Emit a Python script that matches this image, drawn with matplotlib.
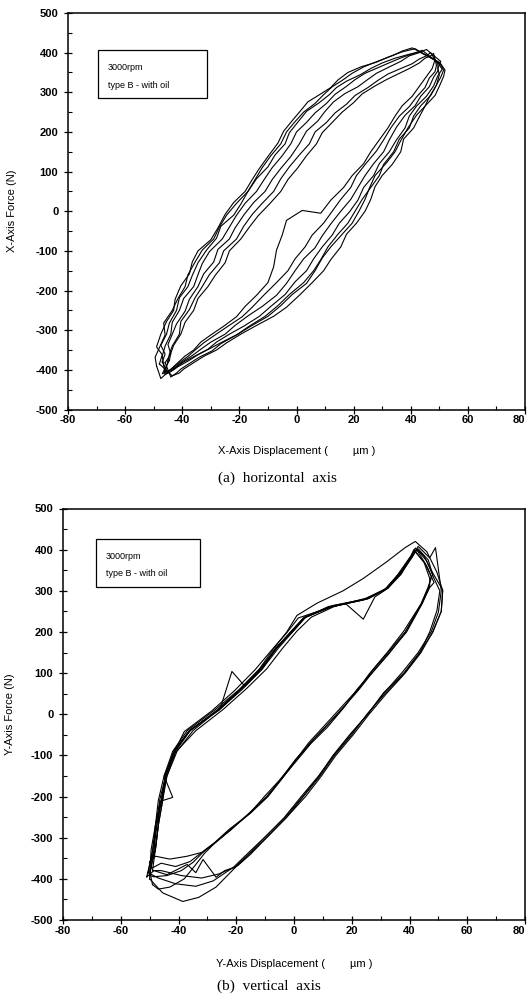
import matplotlib
matplotlib.use('Agg')
import matplotlib.pyplot as plt
from matplotlib.patches import Rectangle
from matplotlib.ticker import MultipleLocator

plt.rcParams['font.family'] = ['Liberation Sans', 'DejaVu Sans']
plt.rcParams['axes.unicode_minus'] = False

# ---- (a) horizontal axis: force vs displacement, 7 recorded cycles ----
top_x1 = [-48, -47, -49, -47.5, -45.5, -43, -42.5, -40.5, -37.5, -36.5, -34.5, -30, -27.5, -25, -22, -18, -15.5,
          -13, -10, -6.5, -4.5, -2, 1, 4, 8.5, 12, 14.5, 18, 22.5, 28, 32.5, 37, 41.5,
          50.5, 52, 51.5, 50, 48.5, 45, 43, 41, 37.5, 36.5, 33.5, 30, 27.5, 26, 24, 21, 17.5,
          15.5, 12, 9.5, 5.5, 1, -3.5, -8, -14, -19.5, -24.5, -28, -32.5, -36, -39.5, -41, -43.5, -48]
top_y1 = [-385, -362, -342, -310, -278, -250, -222, -188, -158, -128, -100, -72, -42, -8, 22, 50, 80,
          108, 138, 172, 202, 224, 250, 276, 296, 312, 331, 350, 364, 376, 390, 402, 410,
          372, 356, 340, 315, 292, 265, 238, 210, 182, 150, 118, 90, 62, 30, 0, -30, -58,
          -90, -122, -150, -180, -212, -242, -265, -288, -310, -332, -350, -366, -382, -398, -408, -415, -385]
top_x2 = [-47, -46, -47.5, -45.5, -44.5, -42, -41, -38, -36.5, -34.5, -31.5, -28, -26.5, -22, -19.5, -17, -14,
          -10, -7.5, -4, -2.5, 0.5, 3.5, 8, 11.5, 14, 17.5, 22.5, 26, 30, 34.5, 39.5, 43,
          50, 51.5, 50.5, 48.5, 46.5, 45, 42, 39, 36.5, 34.5, 31.5, 27.5, 25.5, 24, 22, 19.5, 15.5,
          12, 9, 6.5, 3.5, -1.5, -5.5, -10, -16.5, -20.5, -25.5, -30, -34.5, -38, -41.5, -43, -45, -47]
top_y2 = [-380, -360, -338, -310, -282, -250, -218, -190, -162, -130, -98, -68, -38, -10, 18, 50, 82,
          112, 142, 170, 198, 225, 252, 274, 294, 312, 328, 345, 360, 374, 386, 396, 402,
          376, 356, 338, 312, 288, 265, 242, 210, 178, 150, 122, 90, 58, 30, 2, -30, -62,
          -90, -118, -150, -182, -210, -238, -265, -292, -310, -328, -345, -362, -378, -392, -400, -408, -380]
top_x3 = [-46.5, -47, -46, -44, -43.5, -41, -39.5, -36, -34.5, -33, -30.5, -26, -23.5, -21, -18, -14, -11.5,
          -8.5, -5, -2, 0, 3.5, 6.5, 10.5, 13.5, 17.5, 20.5, 24, 28.5, 33, 37, 41, 44,
          49.5, 51, 49.5, 48, 45.5, 42, 39.5, 38, 35, 32.5, 29, 27, 23.5, 21.5, 18.5, 15, 12.5,
          9, 6, 3.5, -0.5, -4, -9, -13, -18.5, -23.5, -28, -31, -35.5, -39.5, -42.5, -44, -46, -46.5]
top_y3 = [-388, -365, -340, -310, -280, -250, -220, -190, -160, -132, -102, -70, -40, -10, 20, 50, 78,
          110, 140, 170, 200, 224, 248, 272, 295, 315, 332, 348, 362, 376, 388, 398, 406,
          375, 358, 342, 316, 290, 265, 240, 210, 180, 150, 120, 90, 60, 28, -2, -30, -60,
          -90, -120, -150, -178, -210, -240, -265, -290, -310, -330, -348, -365, -380, -395, -404, -412, -388]
top_x4 = [-46, -44, -45, -43.5, -42, -39, -37.5, -34.5, -32.5, -29, -27.5, -23.5, -21.5, -18.5, -15, -11, -8.5,
          -5.5, -2, 1, 3.5, 7.5, 10, 13, 17, 21.5, 24.5, 28, 32.5, 36.5, 39.5, 43, 45.5,
          50.5, 49.5, 50, 49, 47, 43.5, 41, 39.5, 36, 34, 30.5, 29, 26, 23, 20.5, 18, 14.5,
          11, 8.5, 6, 2.5, -2.5, -6.5, -11, -17, -21, -26.5, -29.5, -34, -37.5, -40.5, -42, -44, -46]
top_y4 = [-382, -360, -336, -310, -284, -252, -222, -190, -158, -128, -96, -70, -42, -10, 22, 50, 80,
          108, 138, 170, 202, 228, 252, 276, 297, 314, 330, 348, 364, 378, 392, 400, 408,
          378, 360, 344, 318, 292, 266, 240, 210, 182, 150, 118, 90, 60, 30, 0, -30, -58,
          -90, -122, -150, -180, -210, -238, -265, -292, -312, -334, -352, -368, -384, -398, -408, -418, -382]
top_x5 = [-45, -44.5, -43.5, -41, -40.5, -37.5, -35.5, -33, -30.5, -27, -25.5, -21, -18.5, -15.5, -12, -8, -5.5,
          -2.5, 1, 4.5, 6.5, 10.5, 13.5, 17.5, 20.5, 25, 28.5, 32, 36.5, 40.5, 43, 45.5, 47,
          49.5, 49.5, 48, 46.5, 43.5, 41.5, 38, 35, 32.5, 30.5, 27, 24, 21.5, 19, 15.5, 12, 9,
          6.5, 2.5, -0.5, -3.5, -7, -12, -17, -21.5, -25, -30, -33.5, -36.5, -40, -42.5, -44, -46, -45]
top_y5 = [-378, -360, -340, -310, -278, -248, -218, -190, -160, -130, -100, -70, -38, -8, 20, 50, 82,
          112, 142, 170, 200, 224, 248, 270, 292, 312, 330, 346, 360, 372, 384, 392, 400,
          370, 354, 338, 314, 290, 266, 242, 212, 180, 150, 120, 90, 60, 30, 0, -32, -62,
          -92, -120, -150, -182, -212, -240, -264, -288, -310, -330, -348, -364, -380, -394, -400, -406, -378]
top_x6 = [-44.5, -44, -43, -40.5, -39, -36, -34.5, -31, -28.5, -25, -23.5, -19.5, -16.5, -13.5, -9.5, -5.5, -3,
          0.5, 3.5, 7, 9, 12.5, 16, 20, 23, 27.5, 31.5, 35.5, 39.5, 43, 45, 47, 48,
          49, 48.5, 46.5, 45, 42, 39.5, 36, 33, 30.5, 28, 24.5, 21, 19, 15.5, 12.5, 9.5, 5.5,
          3, -0.5, -3, -7, -11.5, -15.5, -19, -24, -28.5, -32.5, -35.5, -38, -41, -43.5, -45, -47, -44.5]
top_y6 = [-376, -358, -338, -310, -280, -250, -220, -190, -162, -130, -100, -70, -40, -12, 18, 50, 80,
          110, 140, 170, 198, 224, 250, 274, 296, 316, 332, 346, 360, 374, 386, 392, 398,
          368, 352, 336, 312, 288, 264, 240, 210, 180, 152, 122, 90, 60, 30, 0, -30, -60,
          -90, -120, -150, -180, -212, -242, -266, -290, -312, -332, -350, -366, -382, -396, -404, -410, -376]
top_x7 = [-49, -49.5, -48, -46, -46.5, -43.5, -41.5, -39, -38, -35.5, -33, -29, -27, -24.5, -21, -17, -14.5,
          -12, -9, -5.5, -3.5, -0.5, 2.5, 6.5, 9.5, 12.5, 16, 19.5, 23.5, 29, 33.5, 37, 40.5,
          48.5, 47.5, 45.5, 43, 40.5, 37, 34.5, 32, 29, 26, 23.5, 19.5, 16.5, 12, 8.5, 2, -3.5,
          -5, -7, -8, -10, -14, -18, -21, -25.5, -30, -33.5, -36, -39, -42, -44.5, -46, -47.5, -49]
top_y7 = [-390, -368, -344, -312, -282, -250, -220, -190, -160, -128, -98, -70, -40, -10, 20, 50, 80,
          110, 140, 170, 200, 226, 250, 272, 294, 314, 330, 348, 364, 380, 392, 404, 412,
          382, 360, 340, 315, 290, 266, 240, 210, 180, 150, 120, 90, 60, 28, -5, 2, -23,
          -60, -98, -140, -180, -212, -240, -266, -290, -312, -330, -350, -365, -385, -402, -412, -422, -390]

# ---- (b) vertical axis: 8 recorded cycles ----
bot_x1 = [-50, -49.5, -48, -47, -45, -42, -37, -27.5, -19, -12, -7, -2.5, 1, 8, 17, 24, 32, 38.5, 42,
          46, 49.5,
          51.5, 51, 48, 44, 38.5, 32, 26, 20.5, 14.5, 9.5, 4, -2.5, -9.5, -15.5, -20,
          -27, -33, -38.5, -45.5, -50]
bot_y1 = [-400, -330, -270, -210, -150, -90, -40, 10, 60, 110, 160, 200, 240, 270, 300, 330, 370, 405, 420,
          395, 345,
          300, 250, 200, 150, 100, 50, 0, -50, -100, -150, -200, -250, -300, -340, -370,
          -420, -445, -455, -434, -400]
bot_x2 = [-50.5, -49, -47.5, -46, -44, -41, -34, -24.5, -16.5, -9.5, -4, 1, 6, 14, 25, 32.5, 37, 41, 43,
          47, 49,
          51, 50, 47.5, 43, 37.5, 31, 25.5, 19.5, 13.5, 8.5, 3, -3, -10, -16, -21,
          -28, -34, -41, -47, -50.5]
bot_y2 = [-385, -330, -268, -212, -150, -92, -40, 12, 62, 110, 160, 202, 236, 262, 282, 306, 342, 382, 408,
          380, 405,
          300, 248, 200, 150, 102, 50, 0, -48, -100, -152, -200, -250, -298, -338, -372,
          -405, -418, -412, -398, -385]
bot_x3 = [-49, -48, -47, -46.5, -44.5, -41.5, -36.5, -27, -19, -12, -6.5, -1.5, 3, 12, 24, 31.5, 36, 40, 42.5,
          46, 48.5,
          50.5, 49.5, 47, 43.5, 38, 31.5, 25.5, 20, 14, 9, 3.5, -2.5, -9.5, -15, -19.5,
          -26, -32, -39, -46, -49]
bot_y3 = [-380, -328, -272, -208, -152, -90, -42, 8, 58, 108, 158, 198, 232, 260, 278, 302, 338, 378, 402,
          372, 330,
          300, 252, 200, 148, 98, 50, 2, -50, -100, -150, -198, -250, -300, -340, -368,
          -388, -398, -392, -380, -380]
bot_x4 = [-51, -49, -48, -46, -44.5, -41.5, -36, -26, -18.5, -11, -6, -0.5, 4, 13.5, 26, 32.5, 37, 40.5, 42,
          45, 47.5,
          51.5, 51, 48, 43.5, 38, 31, 25.5, 19.5, 13.5, 8.5, 2.5, -3.5, -10.5, -16, -20.5,
          -24, -27, -31.5, -34, -37, -44, -48.5, -51]
bot_y4 = [-395, -335, -270, -212, -148, -88, -38, 10, 60, 112, 162, 200, 236, 264, 282, 308, 340, 380, 404,
          385, 350,
          302, 250, 198, 150, 100, 52, 0, -50, -102, -150, -200, -252, -302, -342, -372,
          -380, -396, -353, -385, -365, -390, -380, -395]
bot_x5 = [-50, -48, -47, -45.5, -44, -40.5, -35, -25.5, -21.5, -17, -11, -5.5, -0.5, 4, 13.5, 25.5, 32, 36.5, 40, 41.5,
          45, 47,
          47, 44.5, 39, 33, 27, 22.5, 17.5, 11, 5.5, 1, -4.5, -9, -15, -22, -27, -31.5,
          -37, -43, -48, -50]
bot_y5 = [-360, -328, -270, -210, -150, -90, -40, 15, 104, 68, 110, 160, 200, 236, 262, 280, 304, 340, 378, 400,
          370, 330,
          312, 270, 200, 150, 100, 60, 20, -30, -70, -110, -160, -200, -240, -280, -310, -335,
          -345, -352, -345, -360]
bot_x6 = [-49.5, -48.5, -48, -46.5, -42, -45, -41.5, -38, -28.5, -20.5, -13.5, -7.5, -2.5, 1.5, 12.5, 24, 31.5, 36.5, 40.5, 43,
          46.5, 48,
          46.5, 44, 38, 32.5, 26.5, 22, 17, 10.5, 5, 0.5, -5, -10, -15.5, -22.5, -27.5, -32,
          -36, -41, -46, -49.5]
bot_y6 = [-375, -332, -272, -212, -202, -150, -92, -42, 8, 58, 108, 158, 198, 234, 260, 278, 304, 342, 382, 402,
          375, 340,
          310, 268, 202, 152, 102, 60, 22, -28, -70, -112, -160, -198, -242, -280, -312, -336,
          -358, -370, -362, -375]
bot_x7 = [-50, -48.5, -47.5, -46, -44.5, -41.5, -36, -26.5, -18.5, -11.5, -6, -1, 4, 12, 18, 24, 28, 32.5, 37, 40.5, 42.5,
          46, 48.5,
          47, 44.5, 38.5, 33, 27, 22, 17.5, 11.5, 6, 1.5, -4.5, -9.5, -15, -21.5, -26.5, -31,
          -35, -39, -44, -48.5, -50]
bot_y7 = [-392, -330, -270, -210, -150, -90, -40, 10, 60, 110, 160, 200, 236, 262, 268, 231, 285, 306, 340, 380, 400,
          360, 320,
          308, 272, 198, 148, 100, 62, 18, -32, -70, -108, -158, -202, -238, -278, -308, -332,
          -360, -380, -392, -395, -392]
bot_x8 = [-49, -50, -48, -47, -45.5, -44.5, -41, -36, -26, -18, -11, -6.5, -1, 3.5, 13.5, 25, 32, 36, 40, 42,
          45.5, 47.5,
          46.5, 44, 38.5, 32.5, 26.5, 22, 17.5, 11, 5.5, 0.5, -5, -9.5, -15.5, -22, -27, -31,
          -34, -38, -43, -47, -49]
bot_y8 = [-414, -380, -330, -270, -210, -150, -90, -40, 10, 60, 110, 160, 200, 236, 264, 280, 306, 340, 380, 395,
          365, 335,
          306, 268, 200, 150, 100, 58, 20, -30, -72, -110, -162, -200, -240, -282, -310, -338,
          -365, -400, -420, -425, -414]

x_ticks = [-80, -60, -40, -20, 0, 20, 40, 60, 80]
y_ticks = [-500, -400, -300, -200, -100, 0, 100, 200, 300, 400, 500]
legend_lines = ['3000rpm', 'type B - with oil']

W, H = 529, 994
fig = plt.figure(figsize=(W / 100, H / 100), dpi=100)


def fx(px):
    return px / W


def fy(py):
    return 1 - py / H


def draw_panel(left, right, top, bottom, xs, ys, ylab, xlab, box, cap, cap_xy, xlab_y, ylab_x):
    ax = fig.add_axes([fx(left), fy(bottom), fx(right - left), (bottom - top) / H])
    for cx, cy in zip(xs, ys):
        ax.plot(cx, cy, color='black', lw=0.8)
    ax.set_xlim(-80, 80)
    ax.set_ylim(-500, 500)
    ax.set_xticks(x_ticks)
    ax.set_yticks(y_ticks)
    ax.xaxis.set_minor_locator(MultipleLocator(10))
    ax.yaxis.set_minor_locator(MultipleLocator(50))
    ax.tick_params(which='major', direction='inout', length=6, width=0.9, labelsize=8)
    ax.tick_params(axis='x', which='major', pad=1)
    ax.tick_params(axis='y', which='major', pad=4)
    ax.tick_params(which='minor', direction='in', length=3, width=0.8)
    for sp in ax.spines.values():
        sp.set_linewidth(1.1)
    # legend-like text box
    bx0, by0, bx1, by1 = box
    fig.patches.append(Rectangle((fx(bx0), fy(by1)), fx(bx1 - bx0), (by1 - by0) / H,
                                 transform=fig.transFigure, fill=False, lw=0.9, ec='black'))
    fig.text(fx(bx0 + 10), fy(by0 + 18), legend_lines[0], fontsize=6.5, va='center')
    fig.text(fx(bx0 + 10), fy(by0 + 35), legend_lines[1], fontsize=6.5, va='center')
    fig.text(fx(ylab_x), fy((top + bottom) / 2), ylab, rotation=90, fontsize=8,
             ha='center', va='center')
    fig.text(fx((left + right) / 2), fy(xlab_y), xlab, fontsize=8, ha='center', va='center')
    fig.text(fx(cap_xy[0]), fy(cap_xy[1]), cap, fontsize=11, family='Liberation Serif',
             ha='center', va='center')
    return ax


axes = [
    draw_panel(68, 525, 13, 409.5,
               [top_x1, top_x2, top_x3, top_x4, top_x5, top_x6, top_x7],
               [top_y1, top_y2, top_y3, top_y4, top_y5, top_y6, top_y7],
               'X-Axis Force (N)', 'X-Axis Displacement (        \u00b5m )',
               (98, 50, 207, 98), '(a)  horizontal  axis', (277, 478), 451, 12),
    draw_panel(63, 525, 508.5, 920,
               [bot_x1, bot_x2, bot_x3, bot_x4, bot_x5, bot_x6, bot_x7, bot_x8],
               [bot_y1, bot_y2, bot_y3, bot_y4, bot_y5, bot_y6, bot_y7, bot_y8],
               'Y-Axis Force (N)', 'Y-Axis Displacement (        \u00b5m )',
               (95.5, 538.5, 200, 587), '(b)  vertical  axis', (269, 986), 964, 10),
]

fig.canvas.draw()
for ax in axes:
    for lab in ax.get_xticklabels() + ax.get_yticklabels():
        lab.set_fontweight('bold')
    # the "80" label sits at the very edge of the page; keep it inside
    ax.get_xticklabels()[-1].set_horizontalalignment('right')

fig.savefig('out.png', dpi=100)
